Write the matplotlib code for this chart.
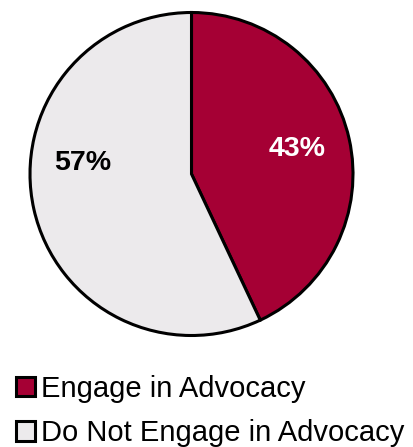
import numpy as np
import matplotlib.pyplot as plt

labels = ['Engage in Advocacy', 'Do Not Engage in Advocacy']
shares = [43, 57]
colors = ['#A50034', '#ECEAEC']
pct_colors = ['white', 'black']

plt.rcParams['font.family'] = ['Liberation Sans', 'DejaVu Sans']

W, H = 413, 447
fig = plt.figure(figsize=(W / 100, H / 100), dpi=100)

# pie area in pixels: centre (191.5, 174), radius ~161.5
cx, cy, r = 191.5, 174, 161.5
ax = fig.add_axes([(cx - r) / W, (H - cy - r) / H, 2 * r / W, 2 * r / H])

wedges, _, autotexts = ax.pie(
    shares, colors=colors, startangle=90, counterclock=False,
    autopct='%d%%', pctdistance=0.67,
    wedgeprops=dict(edgecolor='black', linewidth=2.2),
)
for t, c in zip(autotexts, pct_colors):
    t.set_color(c)
    t.set_fontsize(20.5)
    t.set_fontweight('bold')

# nudge the larger slice label up toward the horizontal
ang = np.deg2rad(174)
autotexts[1].set_position((0.675 * np.cos(ang), 0.675 * np.sin(ang)))
ang = np.deg2rad(13.5)
autotexts[0].set_position((0.67 * np.cos(ang), 0.67 * np.sin(ang)))

ax.set_xlim(-1, 1)
ax.set_ylim(-1, 1)
ax.set_aspect('equal')
ax.axis('off')

leg = fig.legend(
    wedges, labels, loc='upper left', bbox_to_anchor=(16 / W, 1 - 375 / H),
    frameon=False, fontsize=21, handlelength=0.65, handleheight=0.65,
    handletextpad=0.2, labelspacing=0.56, borderaxespad=0, borderpad=0,
)
for h in leg.legend_handles:
    h.set_linewidth(2.2)

fig.savefig('out.png', dpi=100)
